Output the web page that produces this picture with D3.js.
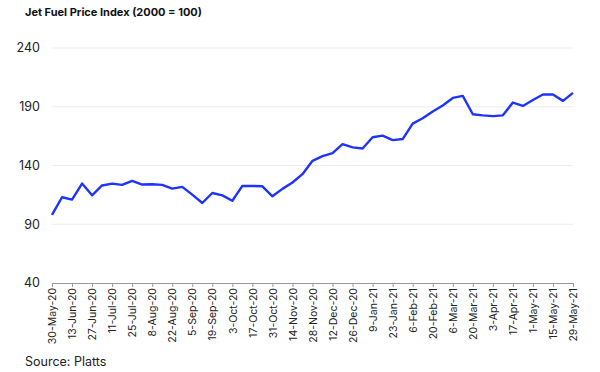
<!DOCTYPE html>
<html>
<head>
<meta charset="utf-8">
<script src="https://cdn.jsdelivr.net/npm/d3@7"></script>
<style>
  body { margin: 0; background: #fff; }
  svg { font-family: Inter, "Liberation Sans", sans-serif; }
</style>
</head>
<body>
<svg id="chart" width="600" height="372"></svg>
<script>
// weekly jet fuel index values, starting 30-May-20
const startDate = "2020-05-30";
const indexValues = [
  98, 113, 111, 124.6, 114.6, 123, 124.6, 123.5, 127, 123.8,
  124, 123.5, 120.3, 121.8, 115.2, 108.1, 116.6, 114.6, 110, 122.6,
  122.6, 122.3, 113.8, 120.1, 125.5, 132.6, 144, 148, 150.5, 158.2,
  155.4, 154.5, 164, 165.4, 161.6, 162.5, 175.6, 180.2, 186, 191,
  197.5, 199.2, 183.6, 182.7, 182, 182.7, 193.6, 190.7, 195.8, 200.4,
  200.4, 195, 201.8
];
const yTicks = [40, 90, 140, 190, 240];
const title = "Jet Fuel Price Index (2000 = 100)";
const source = "Source: Platts";

const svg = d3.select("#chart");
const margin = { left: 52, right: 27, top: 48, bottom: 89 };
const width = 600, height = 372;

const parse = d3.timeParse("%Y-%m-%d");
const start = parse(startDate);
const data = indexValues.map((v, i) => ({ date: d3.timeDay.offset(start, 7 * i), value: v }));

const x = d3.scaleTime()
  .domain(d3.extent(data, d => d.date))
  .range([margin.left, width - margin.right]);

const y = d3.scaleLinear()
  .domain([40, 240])
  .range([283, margin.top]);

// title
svg.append("text")
  .attr("x", 25).attr("y", 15.5)
  .style("font-size", "11px")
  .style("font-weight", "bold")
  .attr("fill", "#111")
  .text(title);

// gridlines + y labels
const yAxis = svg.append("g");
yAxis.selectAll("line.grid")
  .data(yTicks.filter(t => t !== 40))
  .enter().append("line")
  .attr("class", "grid")
  .attr("x1", margin.left).attr("x2", width - margin.right)
  .attr("y1", d => y(d)).attr("y2", d => y(d))
  .attr("stroke", "#ededed").attr("stroke-width", 1);

yAxis.selectAll("text")
  .data(yTicks)
  .enter().append("text")
  .attr("x", 40).attr("y", d => y(d))
  .attr("dy", "0.35em")
  .attr("text-anchor", "end")
  .style("font-size", "12.5px")
  .attr("fill", "#222")
  .text(d => d);

// x axis, a tick every two weeks
const tickDates = data.filter((d, i) => i % 2 === 0).map(d => d.date);
const fmt = d => d3.timeFormat("%-d-%b-%y")(d);
const xAxis = svg.append("g")
  .attr("transform", "translate(0," + y(40) + ")")
  .call(d3.axisBottom(x).tickValues(tickDates).tickFormat(fmt).tickSize(4).tickSizeOuter(0));
xAxis.select(".domain").attr("stroke", "#999");
xAxis.selectAll(".tick line").attr("stroke", "#999");
xAxis.selectAll(".tick text")
  .attr("transform", "rotate(-90)")
  .attr("text-anchor", "end")
  .attr("x", -5).attr("y", 0).attr("dy", "0.35em")
  .style("font-size", "10.5px")
  .style("font-family", "Inter, 'Liberation Sans', sans-serif")
  .attr("fill", "#222");

// line
const line = d3.line()
  .x(d => x(d.date))
  .y(d => y(d.value));

svg.append("path")
  .datum(data)
  .attr("d", line)
  .attr("fill", "none")
  .attr("stroke", "#1f33ff")
  .attr("stroke-width", 2.4)
  .attr("stroke-linejoin", "round");

// source
svg.append("text")
  .attr("x", 25).attr("y", 366)
  .style("font-size", "12.5px")
  .attr("fill", "#222")
  .text(source);
</script>
</body>
</html>
